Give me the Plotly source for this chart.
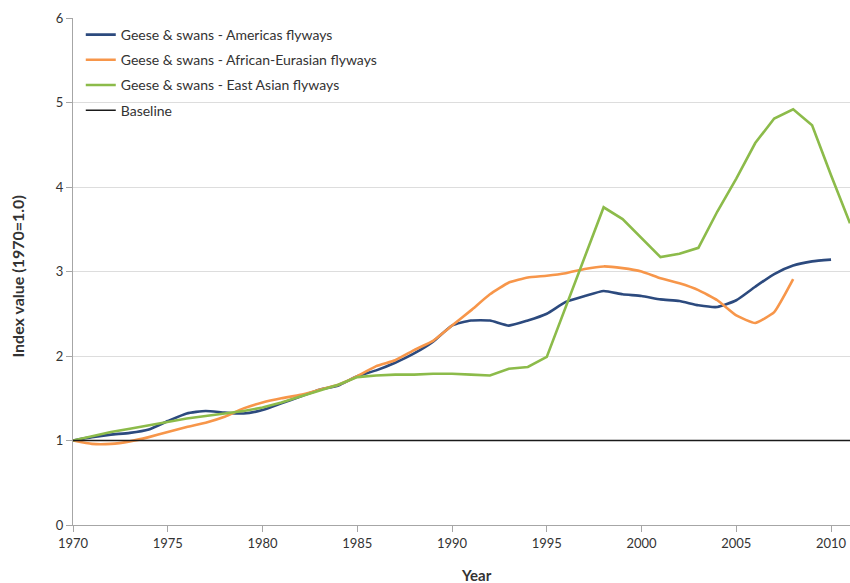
import plotly.graph_objects as go

years_americas = list(range(1970, 2011))
americas = [1.00, 1.04, 1.07, 1.09, 1.13, 1.23, 1.32, 1.35, 1.33, 1.32,
            1.36, 1.44, 1.52, 1.60, 1.65, 1.76, 1.83, 1.92, 2.03, 2.17,
            2.36, 2.42, 2.42, 2.36, 2.42, 2.50, 2.64, 2.71, 2.77, 2.73,
            2.71, 2.67, 2.65, 2.60, 2.58, 2.66, 2.82, 2.97, 3.07, 3.12,
            3.14]

years_afeur = list(range(1970, 2009))
afeur = [1.00, 0.96, 0.96, 0.99, 1.04, 1.10, 1.16, 1.21, 1.28, 1.38,
         1.45, 1.50, 1.54, 1.60, 1.66, 1.76, 1.88, 1.95, 2.07, 2.18,
         2.36, 2.54, 2.73, 2.87, 2.93, 2.95, 2.98, 3.03, 3.06, 3.04,
         3.00, 2.92, 2.86, 2.78, 2.66, 2.48, 2.39, 2.52, 2.91]

years_eastasia = list(range(1970, 2012))
eastasia = [1.00, 1.05, 1.10, 1.14, 1.18, 1.22, 1.26, 1.29, 1.32, 1.35,
            1.39, 1.45, 1.52, 1.59, 1.66, 1.75, 1.77, 1.78, 1.78, 1.79,
            1.79, 1.78, 1.77, 1.85, 1.87, 1.99, 2.58, 3.17, 3.76, 3.62,
            3.40, 3.17, 3.21, 3.28, 3.71, 4.10, 4.52, 4.81, 4.92, 4.73,
            4.14, 3.57]

baseline_years = [1970, 2011]
baseline = [1.0, 1.0]

x_ticks = [1970, 1975, 1980, 1985, 1990, 1995, 2000, 2005, 2010]
y_ticks = [0, 1, 2, 3, 4, 5, 6]

FONT = "Lato, 'Liberation Sans', sans-serif"
TXT = "#333333"

fig = go.Figure()
fig.add_trace(go.Scatter(x=years_americas, y=americas, mode="lines",
                         name="Geese & swans - Americas flyways", legendgroup="a",
                         line=dict(color="#2C4A7E", width=2.6, shape="spline", smoothing=0.5)))
fig.add_trace(go.Scatter(x=years_afeur, y=afeur, mode="lines",
                         name="Geese & swans - African-Eurasian flyways", legendgroup="b",
                         line=dict(color="#F7964A", width=2.6, shape="spline", smoothing=0.4)))
fig.add_trace(go.Scatter(x=years_eastasia, y=eastasia, mode="lines",
                         name="Geese & swans - East Asian flyways", legendgroup="c",
                         line=dict(color="#8CBB4A", width=2.6)))
fig.add_trace(go.Scatter(x=baseline_years, y=baseline, mode="lines",
                         name="Baseline", legendgroup="d",
                         line=dict(color="#1a1a1a", width=1.5)))

fig.update_layout(
    width=850, height=583,
    margin=dict(l=73, r=0, t=18, b=58),
    paper_bgcolor="white", plot_bgcolor="white",
    font=dict(family=FONT, size=13, color=TXT),
    showlegend=True,
    legend=dict(x=0.01, y=0.998, xanchor="left", yanchor="top",
                bgcolor="rgba(0,0,0,0)", font=dict(size=14, color=TXT),
                tracegroupgap=4, itemwidth=30),
    annotations=[
        dict(text="<b>Year</b>", xref="paper", yref="paper", x=0.519, y=0,
             yshift=-50, showarrow=False, xanchor="center", yanchor="middle",
             font=dict(size=15, color=TXT)),
        dict(text="<b>Index value (1970=1.0)</b>", xref="paper", yref="paper",
             x=0, xshift=-55, y=0.49, textangle=-90, showarrow=False,
             xanchor="center", yanchor="middle", font=dict(size=16, color=TXT)),
    ],
)
fig.update_xaxes(range=[1970, 2011], tickvals=x_ticks, ticks="outside", ticklen=6,
                 tickcolor="#A6A6A6", showline=True, linecolor="#A6A6A6", linewidth=1,
                 showgrid=False, zeroline=False, tickfont=dict(size=13, color=TXT))
fig.update_yaxes(range=[0, 6], tickvals=y_ticks, ticks="outside", ticklen=6,
                 tickcolor="#A6A6A6", showline=True, linecolor="#A6A6A6", linewidth=1,
                 showgrid=True, gridcolor="#DDDDDD", gridwidth=1, zeroline=False,
                 tickfont=dict(size=13, color=TXT))

fig.write_html("out.html", config={"displayModeBar": False},
               post_script="document.body.style.margin='0';")
